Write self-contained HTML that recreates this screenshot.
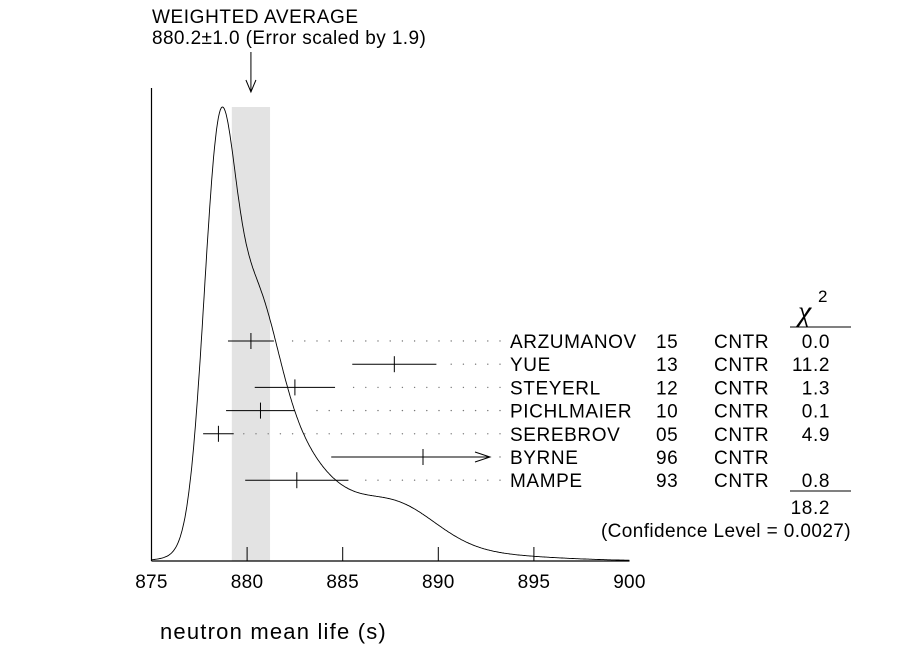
<!DOCTYPE html>
<html><head><meta charset="utf-8">
<style>
body{margin:0;background:#fff;}
svg{display:block;font-family:"Liberation Sans",sans-serif;}
</style></head>
<body>
<svg id="c" width="898" height="654" viewBox="0 0 898 654"></svg>
<script>
const names=["ARZUMANOV","YUE","STEYERL","PICHLMAIER","SEREBROV","BYRNE","MAMPE"];
const years=["15","13","12","10","05","96","93"];
const techs=["CNTR","CNTR","CNTR","CNTR","CNTR","CNTR","CNTR"];
const values=[880.2,887.7,882.5,880.7,878.5,889.2,882.6];
const errors=[1.2,2.2,2.1,1.8,0.8,4.8,2.7];
const chi2=["0.0","11.2","1.3","0.1","4.9","","0.8"];
const avgValue=880.2, avgError=1.0;
const xTicks=[875,880,885,890,895,900];
const chiTotal="18.2";

const NS="http://www.w3.org/2000/svg";
const svg=document.getElementById('c');
const x0=875,x1=900,px0=151.5,px1=629.5,base=561,topY=107;
const X=v=>px0+(v-x0)/(x1-x0)*(px1-px0);
function el(tag,attrs,parent){const e=document.createElementNS(NS,tag);for(const k in attrs)e.setAttribute(k,attrs[k]);(parent||svg).appendChild(e);return e;}
function txt(s,x,y,size,anchor,name,ls){const t=el('text',{x:x,y:y,'font-size':size,'text-anchor':anchor||'start',fill:'#000','letter-spacing':ls===undefined?0.6:ls});t.textContent=s;


return t;}

const band=el('rect',{x:X(avgValue-avgError),y:topY,width:X(avgValue+avgError)-X(avgValue-avgError),height:base-topY,fill:'#e3e3e3'});



function f(v){let s=0;for(let i=0;i<values.length;i++){const z=(v-values[i])/errors[i];s+=Math.exp(-z*z/2)/(errors[i]*errors[i]);}return s;}
let maxv=0;const pts=[];
for(let v=x0;v<=x1+1e-9;v+=0.05){const y=f(v);pts.push([v,y]);if(y>maxv)maxv=y;}
const d=pts.map((p,i)=>(i?'L':'M')+X(p[0]).toFixed(1)+','+(base-(p[1]/maxv)*(base-topY)).toFixed(1)).join('');
const curve=el('path',{d:d,fill:'none',stroke:'#000','stroke-width':0.9});



const ya=el('line',{x1:px0,y1:88,x2:px0,y2:base,stroke:'#000','stroke-width':1.2});


const xa=el('line',{x1:px0,y1:base,x2:px1,y2:base,stroke:'#000','stroke-width':1.2});


xTicks.forEach(t=>{
  if(t!==x0&&t!==x1){const tk=el('line',{x1:X(t),y1:base-14,x2:X(t),y2:base,stroke:'#000','stroke-width':1});
  
  }
  txt(String(t),X(t),588,19,'middle','x-tick-label',0.3);
});
txt('neutron mean life (s)',160,639,22,'start','x-axis-title',1.2);

txt('WEIGHTED AVERAGE',152,23,19,'start','average-title',0.6);
txt('880.2\u00b11.0 (Error scaled by 1.9)',152,44,19,'start','average-value',0.4);
const ar=el('path',{d:`M${X(avgValue)},52 L${X(avgValue)},92 M${X(avgValue)-5},80 L${X(avgValue)},92 L${X(avgValue)+5},80`,fill:'none',stroke:'#000','stroke-width':1});



const rowY0=341,rowDY=23.2;
for(let i=0;i<values.length;i++){
  const y=rowY0+i*rowDY;
  const g=el('g',{});
  
  
  const lo=X(values[i]-errors[i]);let hi=X(values[i]+errors[i]);
  const arrow=hi>495;if(arrow)hi=490;
  el('line',{x1:lo,y1:y,x2:hi,y2:y,stroke:'#000','stroke-width':1},g);
  el('line',{x1:X(values[i]),y1:y-8,x2:X(values[i]),y2:y+8,stroke:'#000','stroke-width':1},g);
  if(arrow)el('path',{d:`M${hi-15},${y-5} L${hi},${y} L${hi-15},${y+5}`,fill:'none',stroke:'#000','stroke-width':1},g);
  const start=arrow?hi+10:Math.max(hi+10,X(values[i])+20);
  for(let dx=500;dx>=start;dx-=12.2)el('circle',{cx:dx,cy:y,r:0.7,fill:'#777'},g);
  txt(names[i],510,y+7,19,'start','experiment-name');
  txt(years[i],656,y+7,19,'start','experiment-year');
  txt(techs[i],714,y+7,19,'start','experiment-technique');
  if(chi2[i])txt(chi2[i],830,y+7,19,'end','chi2-value');
}
const ch=el('text',{x:798,y:321,'font-size':30,fill:'#000','font-family':'Liberation Serif, serif','font-style':'italic'});ch.textContent='\u03c7';


const sup=el('text',{x:818,y:302,'font-size':17,fill:'#000'});sup.textContent='2';


const l1=el('line',{x1:790,y1:327,x2:851,y2:327,stroke:'#000','stroke-width':1});


const l2=el('line',{x1:790,y1:491,x2:851,y2:491,stroke:'#000','stroke-width':1});


txt(chiTotal,830,514,19,'end','chi2-total');
txt('(Confidence Level = 0.0027)',851,537,19,'end','confidence-level',0.4);
</script>
</body></html>
